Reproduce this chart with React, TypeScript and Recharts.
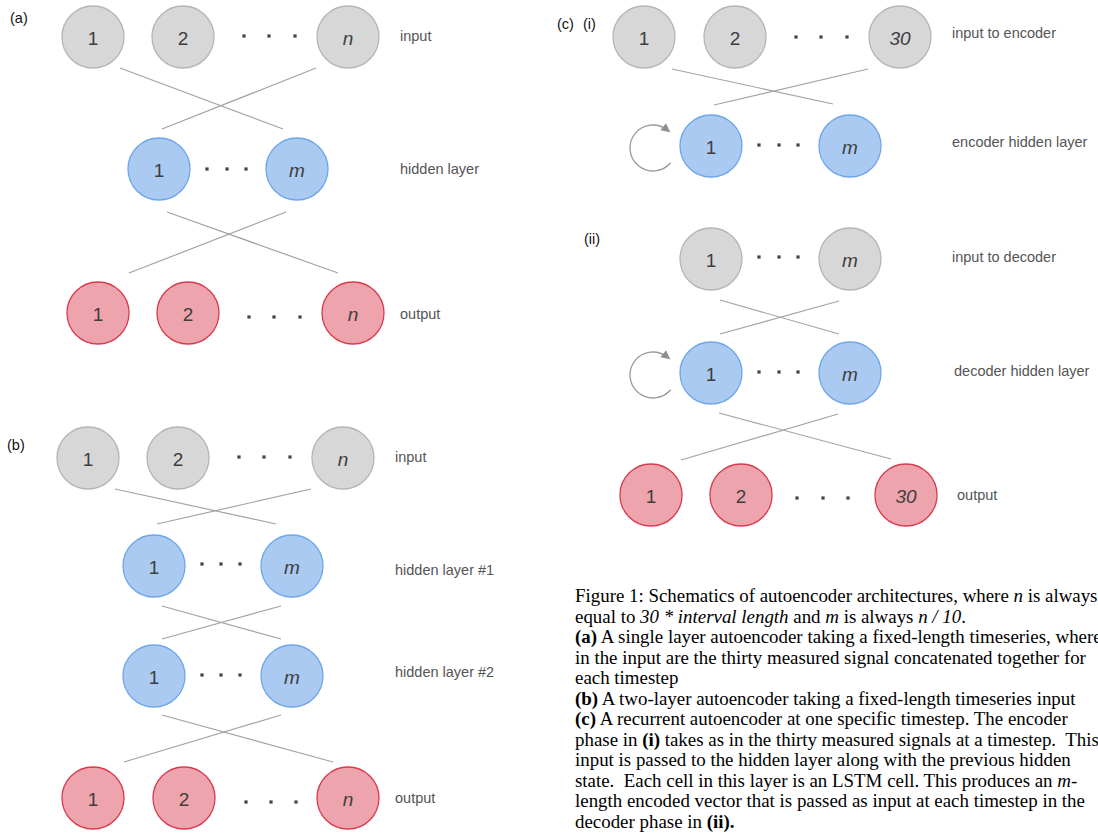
import React from 'react';
import { ScatterChart, Scatter, XAxis, YAxis, ReferenceLine } from 'recharts';

const W = 1098;
const H = 835;

// Node centres (diagram coordinates: x to the right, y downward)
const inputNodes = [
  { x: 93, y: 37, label: '1' }, { x: 183, y: 37, label: '2' }, { x: 348, y: 37, label: 'n', italic: true },
  { x: 88, y: 458, label: '1' }, { x: 178, y: 458, label: '2' }, { x: 343, y: 458, label: 'n', italic: true },
  { x: 644, y: 37, label: '1' }, { x: 735, y: 37, label: '2' }, { x: 900, y: 37, label: '30', italic: true },
  { x: 711, y: 259, label: '1' }, { x: 850, y: 259, label: 'm', italic: true },
];

const hiddenNodes = [
  { x: 159, y: 169, label: '1' }, { x: 297, y: 169, label: 'm', italic: true },
  { x: 154, y: 566, label: '1' }, { x: 292, y: 566, label: 'm', italic: true },
  { x: 154, y: 676, label: '1' }, { x: 292, y: 676, label: 'm', italic: true },
  { x: 711, y: 146, label: '1' }, { x: 850, y: 146, label: 'm', italic: true },
  { x: 711, y: 373, label: '1' }, { x: 850, y: 373, label: 'm', italic: true },
];

const outputNodes = [
  { x: 98, y: 313, label: '1' }, { x: 188, y: 313, label: '2' }, { x: 353, y: 313, label: 'n', italic: true },
  { x: 93, y: 798, label: '1' }, { x: 184, y: 798, label: '2' }, { x: 348, y: 798, label: 'n', italic: true },
  { x: 651, y: 495, label: '1' }, { x: 741, y: 495, label: '2' }, { x: 906, y: 495, label: '30', italic: true },
];

const ellipsisDots = [
  { x: 244, y: 36 }, { x: 269, y: 36 }, { x: 295, y: 36 },
  { x: 207, y: 169 }, { x: 227, y: 169 }, { x: 246, y: 169 },
  { x: 249, y: 317 }, { x: 274, y: 317 }, { x: 300, y: 317 },
  { x: 239, y: 457 }, { x: 264, y: 457 }, { x: 290, y: 457 },
  { x: 202, y: 564 }, { x: 221, y: 564 }, { x: 240, y: 564 },
  { x: 202, y: 675 }, { x: 221, y: 675 }, { x: 240, y: 675 },
  { x: 246, y: 802 }, { x: 271, y: 802 }, { x: 296, y: 802 },
  { x: 796, y: 37 }, { x: 821, y: 37 }, { x: 847, y: 37 },
  { x: 759, y: 145 }, { x: 779, y: 145 }, { x: 798, y: 145 },
  { x: 759, y: 257 }, { x: 779, y: 257 }, { x: 798, y: 257 },
  { x: 759, y: 372 }, { x: 779, y: 372 }, { x: 798, y: 372 },
  { x: 797, y: 498 }, { x: 823, y: 498 }, { x: 848, y: 498 },
];

const edges = [
  [{ x: 120, y: 68 }, { x: 283, y: 129 }], [{ x: 316, y: 68 }, { x: 162, y: 129 }],
  [{ x: 167, y: 212 }, { x: 338, y: 273 }], [{ x: 286, y: 212 }, { x: 129, y: 273 }],
  [{ x: 115, y: 489 }, { x: 276, y: 524 }], [{ x: 311, y: 489 }, { x: 157, y: 524 }],
  [{ x: 162, y: 606 }, { x: 281, y: 639 }], [{ x: 281, y: 606 }, { x: 162, y: 639 }],
  [{ x: 162, y: 715 }, { x: 333, y: 762 }], [{ x: 281, y: 715 }, { x: 124, y: 762 }],
  [{ x: 672, y: 69 }, { x: 833, y: 104 }], [{ x: 868, y: 69 }, { x: 714, y: 105 }],
  [{ x: 720, y: 300 }, { x: 839, y: 334 }], [{ x: 839, y: 301 }, { x: 720, y: 334 }],
  [{ x: 719, y: 413 }, { x: 891, y: 459 }], [{ x: 838, y: 414 }, { x: 681, y: 460 }],
];

const recurrentLoops = [{ x: 653, y: 148 }, { x: 653, y: 375 }];

const layerLabels = [
  { x: 400, y: 36, text: 'input' },
  { x: 400, y: 169, text: 'hidden layer' },
  { x: 400, y: 314, text: 'output' },
  { x: 395, y: 457, text: 'input' },
  { x: 395, y: 570, text: 'hidden layer #1' },
  { x: 395, y: 672, text: 'hidden layer #2' },
  { x: 395, y: 798, text: 'output' },
  { x: 952, y: 33, text: 'input to encoder' },
  { x: 952, y: 142, text: 'encoder hidden layer' },
  { x: 952, y: 257, text: 'input to decoder' },
  { x: 954, y: 371, text: 'decoder hidden layer' },
  { x: 957, y: 495, text: 'output' },
];

const panelLabels = [
  { x: 10, y: 18, text: '(a)' },
  { x: 7, y: 445, text: '(b)' },
  { x: 557, y: 24, text: '(c)' },
  { x: 583, y: 24, text: '(i)' },
  { x: 584, y: 239, text: '(ii)' },
];

const captionAnchor = [{ x: 575, y: 602 }];

// each segment: [text, style] where style: r = roman, i = italic, b = bold
const captionLines: Array<Array<[string, string]>> = [
  [['Figure 1: Schematics of autoencoder architectures, where ', 'r'], ['n', 'i'], [' is always', 'r']],
  [['equal to ', 'r'], ['30 * interval length', 'i'], [' and ', 'r'], ['m', 'i'], [' is always ', 'r'], ['n / 10', 'i'], ['.', 'r']],
  [['(a)', 'b'], [' A single layer autoencoder taking a fixed-length timeseries, where', 'r']],
  [['in the input are the thirty measured signal concatenated together for', 'r']],
  [['each timestep', 'r']],
  [['(b)', 'b'], [' A two-layer autoencoder taking a fixed-length timeseries input', 'r']],
  [['(c)', 'b'], [' A recurrent autoencoder at one specific timestep. The encoder', 'r']],
  [['phase in ', 'r'], ['(i)', 'b'], [' takes as in the thirty measured signals at a timestep.  This', 'r']],
  [['input is passed to the hidden layer along with the previous hidden', 'r']],
  [['state.  Each cell in this layer is an LSTM cell. This produces an ', 'r'], ['m', 'i'], ['-', 'r']],
  [['length encoded vector that is passed as input at each timestep in the', 'r']],
  [['decoder phase in ', 'r'], ['(ii).', 'b']],
];

const SANS = '"Liberation Sans", Arial, Helvetica, sans-serif';
const SERIF = '"Liberation Serif", "Times New Roman", serif';
const NODE_R = 31;

const makeNode = (fill: string, stroke: string) => (props: any) => {
  const { cx, cy, payload } = props;
  if (cx == null || cy == null) return <g />;
  return (
    <g>
      <circle cx={cx} cy={cy} r={NODE_R} fill={fill} stroke={stroke} strokeWidth={1.3} />
      <text
        x={cx}
        y={cy + 1}
        textAnchor="middle"
        dominantBaseline="central"
        fontFamily={SANS}
        fontSize={19}
        fontStyle={payload.italic ? 'italic' : 'normal'}
        fill="#3d3d3d"
      >
        {payload.label}
      </text>
    </g>
  );
};

const DotShape = (props: any) => {
  const { cx, cy } = props;
  if (cx == null) return <g />;
  return <rect x={cx - 1.6} y={cy - 1.6} width={3.2} height={3.2} fill="#444" />;
};

const LoopShape = (props: any) => {
  const { cx, cy } = props;
  if (cx == null) return <g />;
  const r = 23;
  const a0 = (40 * Math.PI) / 180;
  const a1 = (308 * Math.PI) / 180;
  const sx = cx + r * Math.cos(a0);
  const sy = cy + r * Math.sin(a0);
  const ex = cx + r * Math.cos(a1);
  const ey = cy + r * Math.sin(a1);
  const tx = -Math.sin(a1);
  const ty = Math.cos(a1);
  const nx = -ty;
  const ny = tx;
  const L = 9;
  const Wd = 4.5;
  const tipX = ex + tx * 4;
  const tipY = ey + ty * 4;
  const bx = tipX - tx * L;
  const by = tipY - ty * L;
  return (
    <g>
      <path
        d={`M ${sx} ${sy} A ${r} ${r} 0 1 1 ${ex} ${ey}`}
        fill="none"
        stroke="#9a9a9a"
        strokeWidth={1.3}
      />
      <polygon
        points={`${tipX},${tipY} ${bx + nx * Wd},${by + ny * Wd} ${bx - nx * Wd},${by - ny * Wd}`}
        fill="#8f8f8f"
      />
    </g>
  );
};

const LayerLabelShape = (props: any) => {
  const { cx, cy, payload } = props;
  if (cx == null) return <g />;
  return (
    <text x={cx} y={cy} dominantBaseline="central" fontFamily={SANS} fontSize={14.5} fill="#555">
      {payload.text}
    </text>
  );
};

const PanelLabelShape = (props: any) => {
  const { cx, cy, payload } = props;
  if (cx == null) return <g />;
  return (
    <text x={cx} y={cy} dominantBaseline="central" fontFamily={SANS} fontSize={14.5} fill="#111">
      {payload.text}
    </text>
  );
};

const CaptionShape = (props: any) => {
  const { cx, cy } = props;
  if (cx == null) return <g />;
  return (
    <text x={cx} y={cy} fontFamily={SERIF} fontSize={18.9} fill="#000" style={{ whiteSpace: 'pre' }}>
      {captionLines.map((segs, i) => (
        <tspan key={i} x={cx} dy={i === 0 ? 0 : 20.5}>
          {segs.map(([t, s], j) => (
            <tspan
              key={j}
              fontStyle={s === 'i' ? 'italic' : 'normal'}
              fontWeight={s === 'b' ? 'bold' : 'normal'}
            >
              {t}
            </tspan>
          ))}
        </tspan>
      ))}
    </text>
  );
};

export default function App() {
  return (
    <div
      style={{
        position: 'absolute',
        left: 0,
        top: 0,
        width: W,
        height: H,
        overflow: 'hidden',
        background: '#fff',
      }}
    >
      <ScatterChart width={W} height={H} margin={{ top: 0, right: 0, bottom: 0, left: 0 }}>
        <XAxis type="number" dataKey="x" domain={[0, W]} allowDataOverflow hide />
        <YAxis type="number" dataKey="y" domain={[0, H]} allowDataOverflow reversed hide />
        {edges.map((seg, i) => (
          <ReferenceLine key={i} segment={seg} stroke="#a3a3a3" strokeWidth={1.2} ifOverflow="visible" />
        ))}
        <Scatter data={recurrentLoops} shape={LoopShape} isAnimationActive={false} />
        <Scatter data={inputNodes} shape={makeNode('#d7d7d7', '#b5b5b5')} isAnimationActive={false} />
        <Scatter data={hiddenNodes} shape={makeNode('#aacaf1', '#6ea6ea')} isAnimationActive={false} />
        <Scatter data={outputNodes} shape={makeNode('#eda4ac', '#d83a4e')} isAnimationActive={false} />
        <Scatter data={ellipsisDots} shape={DotShape} isAnimationActive={false} />
        <Scatter data={layerLabels} shape={LayerLabelShape} isAnimationActive={false} />
        <Scatter data={panelLabels} shape={PanelLabelShape} isAnimationActive={false} />
        <Scatter data={captionAnchor} shape={CaptionShape} isAnimationActive={false} />
      </ScatterChart>
    </div>
  );
}
